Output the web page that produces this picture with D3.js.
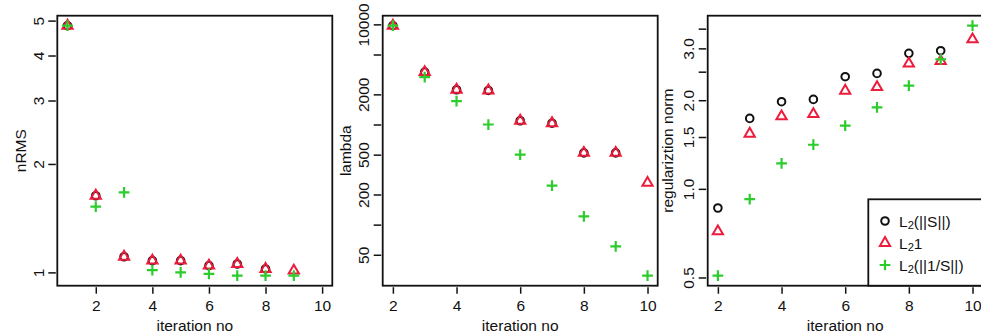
<!DOCTYPE html>
<html>
<head>
<meta charset="utf-8">
<script src="https://cdn.jsdelivr.net/npm/d3@7"></script>
<style>
  html, body { margin: 0; padding: 0; background: #fff; }
  svg { display: block; }
  text { font-family: "Liberation Sans", Arial, Helvetica, sans-serif; fill: #111; }
</style>
</head>
<body>
<svg id="chart" width="981" height="335"></svg>
<script>
// ---- data -------------------------------------------------------------
// iteration numbers
const iterRms = [1, 2, 3, 4, 5, 6, 7, 8, 9];
const iterLam = [2, 3, 4, 5, 6, 7, 8, 9, 10];

// normalised RMS per iteration for the three regularisation schemes
const rmsL2S    = [4.84, 1.632, 1.105, 1.078, 1.078, 1.044, 1.055, 1.022, null];
const rmsL2One  = [4.84, 1.632, 1.105, 1.078, 1.078, 1.044, 1.055, 1.022, 1.011];
const rmsL2InvS = [4.84, 1.522, 1.667, 1.015, 1.000, 0.990, 0.979, 0.979, 0.979];

// regularisation weight lambda
const lamL2S    = [9700, 3336, 2223, 2188, 1090, 1030, 521, 521, null];
const lamL2One  = [9700, 3336, 2223, 2188, 1090, 1030, 521, 521, 261];
const lamL2InvS = [9700, 2972, 1710, 1000, 501, 245, 121, 60.7, 30.9];

// regularisation norm
const regL2S    = [0.861, 1.735, 1.977, 2.013, 2.404, 2.467, 2.886, 2.946, null];
const regL2One  = [0.717, 1.539, 1.762, 1.795, 2.155, 2.216, 2.662, 2.716, 3.218];
const regL2InvS = [0.507, 0.923, 1.220, 1.412, 1.639, 1.891, 2.241, 2.753, 3.582];

// axis ticks (blank labels are ticks whose label would collide)
const xTicks = [2, 4, 6, 8, 10];
const rmsTicks = [1, 2, 3, 4, 5];
const rmsTickLabels = ["1", "2", "3", "4", "5"];
const lamTicks = [50, 100, 200, 500, 1000, 2000, 5000, 10000];
const lamTickLabels = ["50", "", "200", "500", "", "2000", "", "10000"];
const regTicks = [0.5, 1.0, 1.5, 2.0, 2.5, 3.0, 3.5];
const regTickLabels = ["0.5", "1.0", "1.5", "2.0", "", "3.0", ""];

const seriesNames = ["L2(||S||)", "L21", "L2(||1/S||)"];

// ---- drawing ----------------------------------------------------------
const svg = d3.select("#chart");
const FONT = 15.5;
const COL = { circle: "#111111", tri: "#ee1c3c", plus: "#2ccc2c" };
const R = 3.8;
const SW = 2.0;

const plotTop = 15.7, plotH = 270, plotW = 275;

// R-style 4% padding of a range (linear or log)
function padLin(lo, hi) { const d = (hi - lo) * 0.04; return [lo - d, hi + d]; }
function padLog(vals) {
  const v = vals.filter(x => x != null && x > 0);
  const lo = Math.log(d3.min(v)), hi = Math.log(d3.max(v));
  const d = (hi - lo) * 0.04;
  return [Math.exp(lo - d), Math.exp(hi + d)];
}

const triPath = `M0,${-1.555 * R}L${1.347 * R},${0.778 * R}L${-1.347 * R},${0.778 * R}Z`;
const plusPath = `M${-1.414 * R},0H${1.414 * R}M0,${-1.414 * R}V${1.414 * R}`;

const panels = [
  { left: 57.3, iter: iterRms, xr: [1, 10], s: [rmsL2S, rmsL2One, rmsL2InvS],
    ticks: rmsTicks, labels: rmsTickLabels, title: "nRMS", titleOff: 31 },
  { left: 382.7, iter: iterLam, xr: [2, 10], s: [lamL2S, lamL2One, lamL2InvS],
    ticks: lamTicks, labels: lamTickLabels, title: "lambda", titleOff: 32 },
  { left: 707.7, iter: iterLam, xr: [2, 10], s: [regL2S, regL2One, regL2InvS],
    ticks: regTicks, labels: regTickLabels, title: "regulariztion norm", titleOff: 35, legend: true }
];

panels.forEach((p, pi) => {
  const x = d3.scaleLinear().domain(padLin(p.xr[0], p.xr[1])).range([p.left, p.left + plotW]);
  const y = d3.scaleLog().domain(padLog([].concat(...p.s))).range([plotTop + plotH, plotTop]);
  const bottom = plotTop + plotH;

  const clipId = "clip" + pi;
  svg.append("clipPath").attr("id", clipId)
    .append("rect").attr("x", p.left).attr("y", plotTop).attr("width", plotW).attr("height", plotH);

  // x axis
  const xa = svg.append("g").attr("transform", `translate(0,${bottom})`)
    .call(d3.axisBottom(x).tickValues(xTicks).tickSize(8).tickPadding(6).tickFormat(d3.format("d")));
  xa.select(".domain").remove();
  xa.selectAll("line").attr("stroke", "#111").attr("stroke-width", 1.5).attr("y1", 1.5);
  xa.selectAll("text").attr("font-size", FONT).attr("y", 20).attr("dy", "0.35em")
    .style("font-family", '"Liberation Sans", Arial, sans-serif').attr("fill", "#111");

  // y axis, labels parallel to the axis
  const ya = svg.append("g").attr("transform", `translate(${p.left},0)`)
    .call(d3.axisLeft(y).tickValues(p.ticks).tickSize(9).tickFormat((d, i) => p.labels[i]));
  ya.select(".domain").remove();
  ya.selectAll("line").attr("stroke", "#111").attr("stroke-width", 1.5).attr("x1", -1.5);
  ya.selectAll("text").attr("font-size", FONT)
    .attr("transform", "rotate(-90)").attr("x", 0).attr("y", -19).attr("dy", "0.35em")
    .attr("text-anchor", "middle")
    .style("font-family", '"Liberation Sans", Arial, sans-serif').attr("fill", "#111");

  // axis titles
  svg.append("text").attr("x", p.left + plotW / 2).attr("y", 331)
    .attr("text-anchor", "middle").attr("font-size", FONT).text("iteration no");
  svg.append("text")
    .attr("transform", `translate(${p.left - p.titleOff},${plotTop + plotH / 2}) rotate(-90)`)
    .attr("text-anchor", "middle").attr("font-size", FONT).text(p.title);

  // points: circles, then triangles, then crosses on top
  const g = svg.append("g").attr("clip-path", `url(#${clipId})`);
  const pts = (arr) => p.iter.map((it, i) => ({ it, v: arr[i] })).filter(d => d.v != null);

  g.selectAll("circle.s0").data(pts(p.s[0])).join("circle")
    .attr("cx", d => x(d.it)).attr("cy", d => y(d.v)).attr("r", R)
    .attr("fill", "none").attr("stroke", COL.circle).attr("stroke-width", SW);
  g.selectAll("path.s1").data(pts(p.s[1])).join("path").attr("class", "s1")
    .attr("d", triPath).attr("transform", d => `translate(${x(d.it)},${y(d.v)})`)
    .attr("fill", "none").attr("stroke", COL.tri).attr("stroke-width", SW)
    .attr("stroke-linejoin", "miter");
  g.selectAll("path.s2").data(pts(p.s[2])).join("path").attr("class", "s2")
    .attr("d", plusPath).attr("transform", d => `translate(${x(d.it)},${y(d.v)})`)
    .attr("fill", "none").attr("stroke", COL.plus).attr("stroke-width", SW + 0.2);

  // frame
  svg.append("rect").attr("x", p.left).attr("y", plotTop).attr("width", plotW).attr("height", plotH)
    .attr("fill", "none").attr("stroke", "#111").attr("stroke-width", 1.8);

  if (p.legend) {
    const lx = 868.3, ly = 199.3;
    const lg = svg.append("g");
    lg.append("rect").attr("x", lx).attr("y", ly).attr("width", 200).attr("height", bottom - ly)
      .attr("fill", "#fff").attr("stroke", "#111").attr("stroke-width", 1.8);
    const rows = [221, 243, 265];
    const sx = 885, tx = 899;
    lg.append("circle").attr("cx", sx).attr("cy", rows[0]).attr("r", R)
      .attr("fill", "none").attr("stroke", COL.circle).attr("stroke-width", SW);
    lg.append("path").attr("d", triPath).attr("transform", `translate(${sx},${rows[1]})`)
      .attr("fill", "none").attr("stroke", COL.tri).attr("stroke-width", SW);
    lg.append("path").attr("d", plusPath).attr("transform", `translate(${sx},${rows[2]})`)
      .attr("fill", "none").attr("stroke", COL.plus).attr("stroke-width", SW + 0.2);
    // "L2" written with a subscript 2
    seriesNames.forEach((name, i) => {
      const t = lg.append("text").attr("x", tx).attr("y", rows[i]).attr("dy", "0.36em")
        .attr("font-size", FONT);
      t.append("tspan").text(name.slice(0, 1));
      t.append("tspan").attr("font-size", FONT * 0.72).attr("dy", "0.25em").text(name.slice(1, 2));
      t.append("tspan").attr("dy", "-0.18em").text(name.slice(2));
    });
  }
});
</script>
</body>
</html>
